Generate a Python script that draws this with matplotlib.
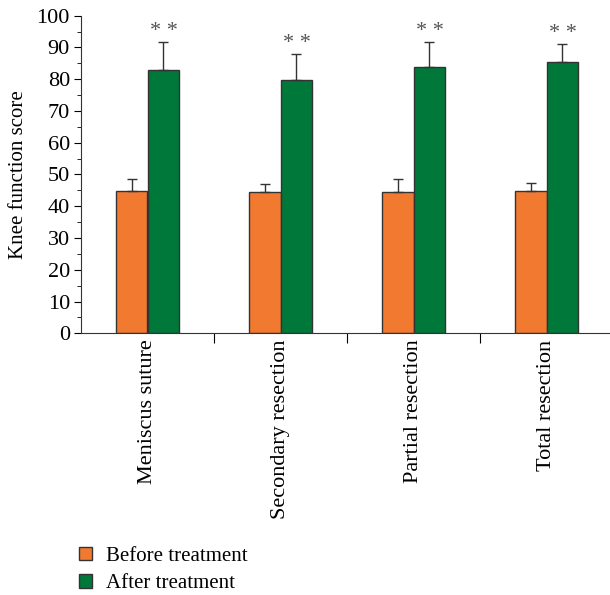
import numpy as np
import matplotlib.pyplot as plt
from matplotlib.ticker import MultipleLocator

groups = ["Meniscus suture", "Secondary resection", "Partial resection", "Total resection"]
before = [44.9, 44.5, 44.6, 44.8]
before_err = [3.7, 2.6, 4.0, 2.6]
after = [82.9, 79.8, 84.0, 85.3]
after_err = [8.8, 8.1, 7.8, 5.9]
stars = ["* *", "* *", "* *", "* *"]

orange = "#F27A30"
green = "#00783A"

plt.rcParams['font.family'] = ['Liberation Serif', 'DejaVu Serif']

fig = plt.figure(figsize=(6.1, 5.95), dpi=100)
ax = fig.add_axes([81 / 610, 1 - 333.3 / 595, 532 / 610, (333.3 - 15.7) / 595])

x = np.arange(len(groups)) + 0.5
w = 0.24
ax.bar(x - w / 2, before, w, color=orange, edgecolor="#333333", linewidth=1.0,
       label="Before treatment", zorder=2)
ax.bar(x + w / 2, after, w, color=green, edgecolor="#333333", linewidth=1.0,
       label="After treatment", zorder=2)

# upper error bars only
ax.errorbar(x - w / 2, before, yerr=[np.zeros(4), before_err], fmt="none",
            ecolor="#333333", elinewidth=1.0, capsize=3.5, capthick=1.0, zorder=3)
ax.errorbar(x + w / 2, after, yerr=[np.zeros(4), after_err], fmt="none",
            ecolor="#333333", elinewidth=1.0, capsize=3.5, capthick=1.0, zorder=3)

for xi, a, e, s in zip(x, after, after_err, stars):
    ax.text(xi + w / 2, a + e + 0.3, s, ha="center", va="bottom",
            fontsize=16, color="#555555")

ax.set_xlim(0, 4)
ax.set_ylim(0, 100)
ax.yaxis.set_major_locator(MultipleLocator(10))
ax.yaxis.set_minor_locator(MultipleLocator(5))
ax.tick_params(axis="y", which="major", direction="out", length=5, labelsize=16, pad=3)
ax.tick_params(axis="y", which="minor", direction="out", length=3)

# category boundaries as x ticks, names placed under each group
ax.set_xticks([1, 2, 3])
ax.set_xticklabels([])
ax.tick_params(axis="x", direction="out", length=7)
for xi, g in zip(x, groups):
    ax.text(xi, -2, g, rotation=90, ha="center", va="top", fontsize=16,
            transform=ax.transData)

for side in ["top", "right"]:
    ax.spines[side].set_visible(False)
ax.spines["left"].set_color("#333333")
ax.spines["bottom"].set_color("#333333")

ax.set_ylabel("Knee function score", fontsize=15, labelpad=6)

handles, labels = ax.get_legend_handles_labels()
fig.legend(handles, labels, loc="upper left", bbox_to_anchor=(79 / 610, 1 - 547 / 595),
           frameon=False, fontsize=15, handlelength=0.6, handleheight=0.6,
           handletextpad=0.7, labelspacing=0.4, borderpad=0, borderaxespad=0)

fig.savefig("out.png", dpi=100)
